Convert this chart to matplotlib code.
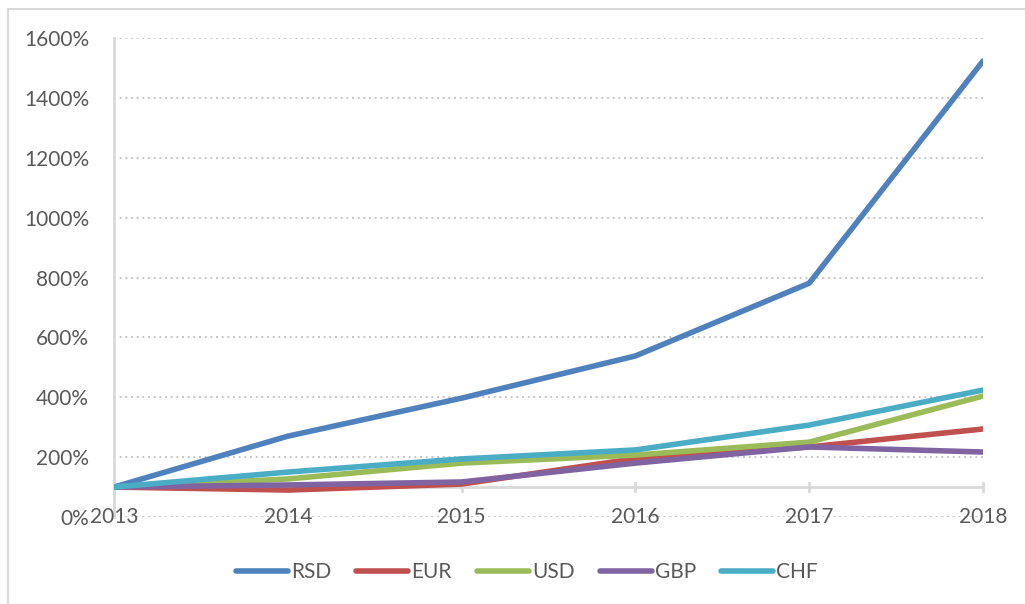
import matplotlib
matplotlib.use("Agg")
import matplotlib.pyplot as plt
from matplotlib.patches import Rectangle

years = ["2013", "2014", "2015", "2016", "2017", "2018"]
rsd = [100, 270, 397, 538, 781, 1523]
eur = [100, 90, 110, 195, 234, 294]
usd = [100, 127, 180, 207, 250, 404]
gbp = [100, 107, 117, 180, 234, 217]
chf = [100, 150, 194, 224, 307, 424]
yticks = [0, 200, 400, 600, 800, 1000, 1200, 1400, 1600]

series = [("RSD", rsd, "#4F81BD"), ("EUR", eur, "#C0504D"), ("USD", usd, "#9BBB59"),
          ("GBP", gbp, "#8064A2"), ("CHF", chf, "#4BACC6")]

plt.rcParams['font.family'] = ['Lato', 'DejaVu Sans']
fig = plt.figure(figsize=(10.25, 6.04), dpi=100)
fig.patches.append(Rectangle((8 / 1025, -0.1), 1.2, 1 - 9 / 604 + 0.1, transform=fig.transFigure,
                             fill=False, edgecolor="#D9D9D9", linewidth=1.5))
ax = fig.add_axes([114 / 1025, 1 - 517 / 604, (983 - 114) / 1025, (517 - 38) / 604])

x = list(range(len(years)))
for name, vals, col in series:
    ax.plot(x, vals, color=col, linewidth=4.0, label=name, solid_capstyle="round",
            solid_joinstyle="round", zorder=3)

ax.set_xlim(0, len(years) - 1)
ax.set_ylim(0, 1600)
ax.set_yticks(yticks)
ax.set_yticklabels([f"{v}%" for v in yticks])
ax.grid(axis="y", linestyle=(0, (1.2, 2.2)), color="#BFBFBF", linewidth=1.2)
ax.set_axisbelow(True)
for s in ["top", "right", "bottom"]:
    ax.spines[s].set_visible(False)
ax.spines["left"].set_color("#D9D9D9")
ax.spines["left"].set_linewidth(2)
ax.tick_params(axis="y", length=0, pad=18, labelsize=15, labelcolor="#595959")
ax.set_xticks([])

# horizontal axis crossing at 100%
ax.axhline(100, color="#D9D9D9", linewidth=2, zorder=2)
for xi, yr in zip(x, years):
    ax.plot([xi, xi], [100 - 12, 100 + 12], color="#D9D9D9", linewidth=2, zorder=2, clip_on=False)
    ax.text(xi, 0, yr, ha="center", va="center", fontsize=15, color="#595959")

leg = ax.legend(loc="center", bbox_to_anchor=(0.475, -0.115), ncol=5, frameon=False,
                fontsize=15, handlelength=2.5, handletextpad=0.15, columnspacing=1.2,
                labelcolor="#595959")
fig.savefig("out.png", dpi=100)
